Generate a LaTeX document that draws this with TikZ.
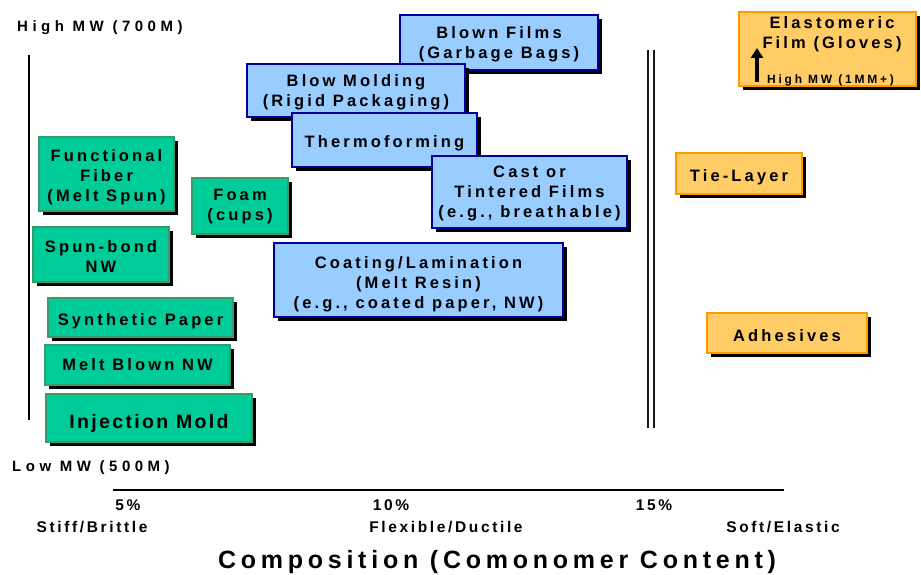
\documentclass[tikz,border=0pt]{standalone}
\usepackage{fontspec}
\setmainfont{Liberation Sans}
\newfontfamily\boxff{Liberation Sans Bold}[LetterSpace=19]
\newfontfamily\injff{Liberation Sans Bold}[LetterSpace=12]
\newfontfamily\mwff{Liberation Sans Bold}[LetterSpace=30]
\newfontfamily\axff{Liberation Sans Bold}[LetterSpace=17]
\newfontfamily\titff{Liberation Sans Bold}[LetterSpace=19]
\newfontfamily\smallff{Liberation Sans Bold}[LetterSpace=23]
\usetikzlibrary{shadows,arrows.meta}
\definecolor{gfill}{HTML}{00CC99}
\definecolor{gline}{HTML}{3A9A6A}
\definecolor{bfill}{HTML}{99CCFF}
\definecolor{bline}{HTML}{000099}
\definecolor{ofill}{HTML}{FFCC66}
\definecolor{oline}{HTML}{FF9900}
\begin{document}
\begin{tikzpicture}[x=1pt,y=-1pt,
  box/.style={line width=1.3pt, inner sep=0pt,
    general shadow={fill=black, shadow xshift=4pt, shadow yshift=-4pt}},
  gbox/.style={box, fill=gfill, draw=gline},
  bbox/.style={box, fill=bfill, draw=bline},
  obox/.style={box, fill=ofill, draw=oline},
  boxtxt/.style={align=center, inner sep=0pt, font=\boxff\fontsize{16.5}{20}\selectfont},
  mwlab/.style={font=\mwff\fontsize{15}{16}\selectfont, inner sep=0pt},
  axlab/.style={font=\axff\fontsize{15.5}{16}\selectfont, inner sep=0pt},
  axisline/.style={line width=1.6pt, black},
  dbl/.style={line width=2pt, black!90}
]
\useasboundingbox (0,0) rectangle (921,575);

% axis lines
\coordinate (vtop) at (29,55);
\coordinate (vbot) at (29,420);
\draw[axisline] (vtop) -- (vbot);
\coordinate (d1t) at (647.5,50);
\coordinate (d1b) at (647.5,428);
\coordinate (d2t) at (653.5,50);
\coordinate (d2b) at (653.5,428);
\draw[dbl] (d1t) -- (d1b);
\draw[dbl] (d2t) -- (d2b);
\coordinate (hl) at (113,490);
\coordinate (hr) at (784,490);
\draw[axisline] (hl) -- (hr);

% MW labels
\node[mwlab, anchor=west] (high) at (17,28) {High MW (700M)};
\node[mwlab, anchor=west] (low) at (12,468) {Low MW (500M)};

% green boxes
\node[gbox, minimum width=135pt, minimum height=74pt] (func) at (106.5,174) {};
\node[boxtxt] (funct) at ([yshift=-3pt]func.center) {Functional\\Fiber\\(Melt Spun)};
\node[gbox, minimum width=136pt, minimum height=55pt] (spun) at (101,254.5) {};
\node[boxtxt] (spunt) at ([yshift=-2pt]spun.center) {Spun-bond\\NW};
\node[gbox, minimum width=96pt, minimum height=56pt] (foam) at (240,206) {};
\node[boxtxt] (foamt) at ([yshift=-1pt]foam.center) {Foam\\(cups)};
\node[gbox, minimum width=185pt, minimum height=39pt] (synth) at (140.5,317.5) {};
\node[boxtxt] (syntht) at ([yshift=-3.5pt]synth.center) {Synthetic Paper};
\node[gbox, minimum width=185pt, minimum height=40pt] (melt) at (137.5,365) {};
\node[boxtxt] (meltt) at ([yshift=0pt]melt.center) {Melt Blown NW};
\node[gbox, minimum width=206pt, minimum height=48pt] (inj) at (149,418) {};
\node[boxtxt, font=\injff\fontsize{19.5}{22}\selectfont] (injt) at ([yshift=-5pt]inj.center) {Injection Mold};

% blue boxes
\node[bbox, minimum width=198pt, minimum height=55pt] (blown) at (499,42.5) {};
\node[boxtxt] (blownt) at ([yshift=-2pt]blown.center) {Blown Films\\(Garbage Bags)};
\node[bbox, minimum width=218pt, minimum height=53pt] (blowm) at (356,90.5) {};
\node[boxtxt] (blowmt) at ([yshift=-2pt]blowm.center) {Blow Molding\\(Rigid Packaging)};
\node[bbox, minimum width=185pt, minimum height=54pt] (thermo) at (384.5,140) {};
\node[boxtxt] (thermot) at ([yshift=-3.5pt]thermo.center) {Thermoforming};
\node[bbox, minimum width=195pt, minimum height=72pt] (cast) at (529.5,192) {};
\node[boxtxt] (castt) at ([yshift=-1pt]cast.center) {Cast or\\Tintered Films\\(e.g., breathable)};
\node[bbox, minimum width=289pt, minimum height=74pt] (coat) at (418.5,280) {};
\node[boxtxt] (coatt) at ([yshift=-4.5pt]coat.center) {Coating/Lamination\\(Melt Resin)\\(e.g., coated paper, NW)};

% orange boxes
\node[obox, minimum width=177pt, minimum height=74pt] (elast) at (827.5,49) {};
\node[boxtxt] (elastt) at (832,34) {Elastomeric\\Film (Gloves)};
\coordinate (arrb) at (757,82);
\coordinate (arrt) at (757,48);
\draw[line width=3.5pt, -{Triangle[width=12pt,length=10pt]}] (arrb) -- (arrt);
\node[font=\smallff\fontsize{12}{13}\selectfont, inner sep=0pt, anchor=west] (hmw) at (767,80.5) {High MW (1MM+)};
\node[obox, minimum width=126pt, minimum height=41pt] (tie) at (739,173.5) {};
\node[boxtxt] (tiet) at ([yshift=-3.5pt]tie.center) {Tie-Layer};
\node[obox, minimum width=160pt, minimum height=40pt] (adh) at (787,333) {};
\node[boxtxt] (adht) at ([yshift=-2.5pt]adh.center) {Adhesives};

% axis labels
\node[axlab] (p5) at (128,505) {5\%};
\node[axlab] (p10) at (391,505) {10\%};
\node[axlab] (p15) at (654,505) {15\%};
\node[axlab] (stiff) at (92,527) {Stiff/Brittle};
\node[axlab] (flex) at (446,527) {Flexible/Ductile};
\node[axlab] (soft) at (783,527) {Soft/Elastic};
\node[font=\titff\fontsize{25}{28}\selectfont, inner sep=0pt] (title) at (497,562) {Composition (Comonomer Content)};
\end{tikzpicture}
\end{document}
